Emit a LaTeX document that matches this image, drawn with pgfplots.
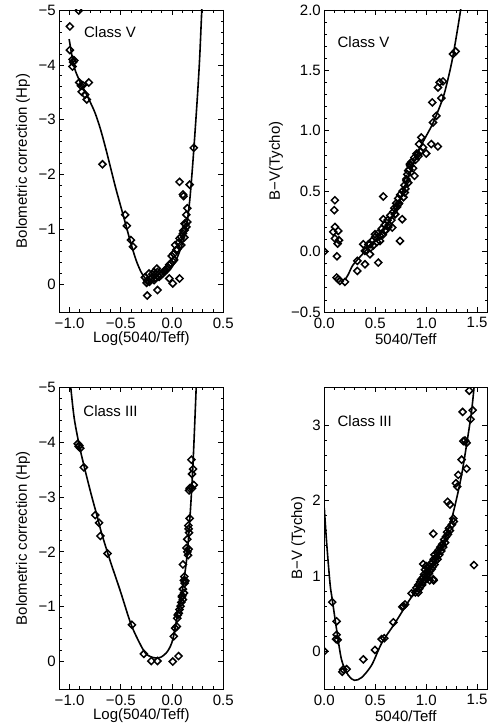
\documentclass[border=0pt]{standalone}
\usepackage{fontspec}
\setmainfont{Liberation Sans}
\usepackage{pgfplots}
\pgfplotsset{compat=1.18}

\pgfplotsset{
  idl/.style={
    scale only axis,
    anchor=south west,
    tick align=inside,
    xtick pos=both, ytick pos=both,
    major tick length=5pt, minor tick length=2.7pt,
    every tick/.style={black, line width=0.8pt},
    axis line style={line width=0.9pt},
    font=\fontsize{15}{17}\selectfont,
    tick label style={font=\fontsize{15}{17}\selectfont},
    xticklabel style={yshift=-2pt},
    minor x tick num=4,
    clip marker paths=true,
    xlabel style={at={(axis description cs:0.5,0)},anchor=center,yshift=-27pt},
  },
  pts/.style={only marks, mark=square, mark size=2.5pt,
    mark options={rotate=45, line width=1.5pt, black}},
  fit/.style={black, line width=1.6pt, smooth, tension=0.5, mark=none},
}

\begin{document}
\begin{tikzpicture}
\path[use as bounding box] (0,0) rectangle (489pt,728pt);

% ---------------- Top left ----------------
\begin{axis}[idl, at={(59.3pt,416pt)}, width=164pt, height=302pt,
  xmin=-1.1, xmax=0.5, ymin=-5, ymax=0.5, y dir=reverse,
  xtick={-1,-0.5,0,0.5}, xticklabels={−1.0,−0.5,0.0,0.5},
  ytick={-5,-4,-3,-2,-1,0}, yticklabels={−5,−4,−3,−2,−1,0},
  minor y tick num=4,
  xlabel={Log(5040/Teff)}, ylabel={Bolometric correction (Hp)},
  ylabel style={at={(axis description cs:-0.221,0.5)},anchor=center},
]
\addplot[fit] coordinates {
(-1.004,-4.47) (-0.975,-4.15) (-0.95,-3.93) (-0.90,-3.70) (-0.85,-3.52)
(-0.80,-3.33) (-0.75,-3.12) (-0.70,-2.84) (-0.65,-2.50) (-0.60,-2.13)
(-0.55,-1.76) (-0.50,-1.42) (-0.45,-1.08) (-0.40,-0.74) (-0.35,-0.44)
(-0.30,-0.22) (-0.25,-0.09) (-0.20,-0.05) (-0.15,-0.08) (-0.10,-0.13)
(-0.05,-0.21) (0.0,-0.32) (0.05,-0.49) (0.10,-0.74) (0.125,-0.91)
(0.15,-1.17) (0.175,-1.58) (0.20,-2.15) (0.225,-2.80) (0.25,-3.50)
(0.27,-4.15) (0.29,-5.0) (0.30,-5.4)};
\addplot[pts] coordinates {
(-0.911,-4.99) (-0.997,-4.70) (-0.997,-4.27) (-0.971,-4.10) (-0.954,-4.08)
(-0.965,-4.05) (-0.971,-3.97) (-0.905,-3.68) (-0.871,-3.63) (-0.812,-3.68)
(-0.881,-3.51) (-0.848,-3.46) (-0.832,-3.37) (-0.888,-3.62)
(-0.679,-2.19) (-0.457,-1.27) (-0.441,-1.07) (-0.401,-0.81) (-0.381,-0.69)
(-0.242,0.20) (-0.142,0.10) (0.007,-0.02) (0.073,-0.11) (-0.027,-0.11)
(0.073,-1.87) (0.106,-1.64) (0.112,-1.61) (0.172,-1.82) (0.212,-2.49)
(-0.265,-0.13) (-0.242,-0.07) (-0.248,-0.03) (-0.219,-0.05) (-0.192,-0.19)
(-0.176,-0.23) (-0.159,-0.19) (-0.142,-0.23) (-0.126,-0.14) (-0.093,-0.20)
(-0.066,-0.26) (-0.043,-0.31) (-0.027,-0.36) (-0.01,-0.39) (0.007,-0.42)
(-0.003,-0.52) (0.017,-0.56) (0.04,-0.63) (0.03,-0.72) (0.063,-0.76)
(0.073,-0.84) (0.089,-0.87) (0.106,-0.93) (0.123,-0.99) (0.139,-1.05)
(0.123,-1.11) (0.149,-1.14) (0.139,-1.27) (0.149,-1.39) (0.089,-0.72)
(0.05,-0.64) (-0.225,-0.20) (-0.209,-0.09) (-0.176,-0.08) (-0.109,-0.17)
(-0.08,-0.24) (-0.149,-0.29) (-0.20,-0.12) (-0.16,-0.12) (-0.12,-0.20)
(-0.05,-0.28) (0.02,-0.45) (0.11,-0.98) (0.13,-1.10) (0.12,-0.86)};
\node[anchor=west] at (rel axis cs:0.13,0.928) {Class V};
\end{axis}

% ---------------- Top right ----------------
\begin{axis}[idl, at={(324.3pt,416pt)}, width=163pt, height=302pt,
  xmin=0, xmax=1.6, ymin=-0.5, ymax=2.0,
  xtick={0,0.5,1,1.5}, xticklabels={0.0,0.5,1.0,1.5},
  ytick={-0.5,0,0.5,1,1.5,2}, yticklabels={−0.5,0.0,0.5,1.0,1.5,2.0},
  minor y tick num=4,
  xlabel={5040/Teff}, ylabel={B−V(Tycho)},
  ylabel style={at={(axis description cs:-0.296,0.5)},anchor=center},
]
\addplot[fit] coordinates {
(0.202,-0.235) (0.235,-0.19) (0.282,-0.11) (0.376,-0.02) (0.471,0.07)
(0.565,0.16) (0.659,0.28) (0.742,0.42) (0.815,0.60) (0.90,0.78) (0.97,0.91)
(1.065,1.06) (1.16,1.26) (1.206,1.40) (1.254,1.58) (1.30,1.80) (1.338,2.00) (1.357,2.12)};
\addplot[pts] coordinates {
(0.0,0.0) (0.104,0.425) (0.098,0.343) (0.104,0.204) (0.088,0.163) (0.137,0.171)
(0.104,0.108) (0.144,0.094) (0.131,0.066) (0.124,-0.039) (0.121,-0.215)
(0.137,-0.229) (0.153,-0.243) (0.203,-0.251) (0.324,-0.077) (0.324,-0.160)
(0.383,0.061) (0.399,0.006) (0.399,-0.105) (0.448,-0.022) (0.448,0.061)
(0.497,0.144) (0.530,-0.091) (0.547,0.088) (0.579,0.456) (0.579,0.268)
(0.596,0.171) (0.628,0.204) (0.667,0.199) (0.694,0.309) (0.727,0.392)
(0.743,0.088) (0.765,0.268) (0.790,0.489) (0.807,0.586) (0.823,0.669)
(0.840,0.724) (0.885,0.779) (0.919,0.807) (1.000,0.812) (0.885,0.627)
(0.952,0.945) (0.930,0.890) (1.050,0.890) (1.115,0.870) (0.969,0.862)
(1.060,1.235) (1.100,1.124) (1.067,1.069) (1.149,1.271) (1.116,1.359)
(1.132,1.401) (1.165,1.409) (1.263,1.635) (1.289,1.657)
(0.414,0.01) (0.433,0.06) (0.452,0.03) (0.471,0.09) (0.480,0.05) (0.499,0.12)
(0.518,0.08) (0.527,0.15) (0.546,0.13) (0.565,0.19) (0.574,0.14) (0.593,0.22)
(0.602,0.18) (0.621,0.26) (0.631,0.22) (0.649,0.30) (0.659,0.26) (0.678,0.33)
(0.687,0.36) (0.696,0.31) (0.706,0.40) (0.715,0.37) (0.725,0.44) (0.734,0.40)
(0.744,0.47) (0.768,0.50) (0.777,0.45) (0.787,0.55) (0.796,0.52) (0.806,0.60)
(0.815,0.64) (0.824,0.57) (0.834,0.68) (0.843,0.71) (0.853,0.74) (0.872,0.69)
(0.896,0.76) (0.905,0.81) (0.924,0.79) (0.943,0.83)};
\node[anchor=west] at (rel axis cs:0.06,0.895) {Class V};
\end{axis}

% ---------------- Bottom left ----------------
\begin{axis}[idl, at={(59.3pt,39pt)}, width=164pt, height=301.7pt,
  xmin=-1.1, xmax=0.5, ymin=-5, ymax=0.5, y dir=reverse,
  xtick={-1,-0.5,0,0.5}, xticklabels={−1.0,−0.5,0.0,0.5},
  ytick={-5,-4,-3,-2,-1,0}, yticklabels={−5,−4,−3,−2,−1,0},
  minor y tick num=4,
  xlabel={Log(5040/Teff)}, ylabel={Bolometric correction (Hp)},
  ylabel style={at={(axis description cs:-0.221,0.5)},anchor=center},
]
\addplot[fit] coordinates {
(-1.00,-5.3) (-0.987,-4.98) (-0.954,-4.43) (-0.905,-3.94) (-0.855,-3.54)
(-0.789,-3.05) (-0.722,-2.59) (-0.689,-2.35) (-0.606,-1.85) (-0.507,-1.30)
(-0.408,-0.72) (-0.341,-0.43) (-0.258,-0.15) (-0.176,-0.07) (-0.109,-0.08)
(-0.043,-0.19) (0.007,-0.40) (0.056,-0.885) (0.106,-1.37) (0.149,-1.98)
(0.182,-2.84) (0.205,-3.63) (0.222,-4.37) (0.239,-5.16)};
\addplot[pts] coordinates {
(-0.92,-3.97) (-0.905,-3.94) (-0.91,-3.92) (-0.895,-3.89) (-0.861,-3.54)
(-0.749,-2.67) (-0.712,-2.53) (-0.699,-2.29) (-0.629,-1.97) (-0.391,-0.67)
(-0.275,-0.14) (-0.202,-0.01) (-0.142,-0.01) (0.007,0.0) (0.063,-0.10)
(0.017,-0.46) (0.03,-0.61) (0.046,-0.64) (0.05,-0.79) (0.056,-0.85)
(0.073,-0.95) (0.083,-1.01) (0.09,-1.08) (0.106,-1.13) (0.096,-1.18)
(0.116,-1.25) (0.106,-1.32) (0.123,-1.43) (0.13,-1.47) (0.116,-1.48)
(0.106,-1.77) (0.156,-1.94) (0.149,-2.0) (0.162,-2.05) (0.149,-2.23)
(0.166,-2.35) (0.162,-2.42) (0.172,-2.61) (0.195,-3.16) (0.212,-3.22)
(0.172,-3.16) (0.195,-3.42) (0.205,-3.51) (0.189,-3.68) (0.166,-3.12)
(0.159,-2.48) (0.140,-2.07) (0.12,-1.55) (0.10,-1.20) (0.066,-0.88)};
\node[anchor=west] at (rel axis cs:0.126,0.922) {Class III};
\end{axis}

% ---------------- Bottom right ----------------
\begin{axis}[idl, at={(324.3pt,39pt)}, width=163pt, height=301.7pt,
  xmin=0, xmax=1.6, ymin=-0.5, ymax=3.5,
  xtick={0,0.5,1,1.5}, xticklabels={0.0,0.5,1.0,1.5},
  ytick={0,1,2,3}, yticklabels={0,1,2,3},
  minor y tick num=4,
  xlabel={5040/Teff}, ylabel={B−V (Tycho)},
  ylabel style={at={(axis description cs:-0.16,0.5)},anchor=center},
]
\addplot[fit] coordinates {
(0.0,1.90) (0.023,1.44) (0.056,0.90) (0.078,0.687) (0.121,0.286) (0.170,-0.116)
(0.235,-0.317) (0.295,-0.384) (0.366,-0.348) (0.465,-0.183) (0.563,0.107)
(0.694,0.375) (0.808,0.621) (0.906,0.821) (1.004,1.0) (1.102,1.223)
(1.184,1.491) (1.250,1.759) (1.299,2.027) (1.348,2.339) (1.397,2.741)
(1.446,3.188) (1.479,3.63)};
\addplot[pts] coordinates {
(0.0,0.0) (0.078,0.652) (0.121,0.397) (0.121,0.219) (0.131,0.152) (0.115,0.161)
(0.177,-0.272) (0.219,-0.237) (0.186,-0.241) (0.383,-0.107) (0.497,0.018)
(0.563,0.161) (0.589,0.174) (0.678,0.384) (0.765,0.589) (0.792,0.621)
(1.423,3.455) (1.358,3.174) (1.456,3.196) (1.436,3.076) (1.381,2.795)
(1.365,2.786) (1.397,2.763) (1.348,2.540) (1.397,2.420) (1.315,2.339)
(1.292,2.228) (1.305,2.183) (1.210,1.982) (1.233,1.946) (1.266,1.759)
(1.070,1.558) (1.469,1.143) (1.070,0.955) (0.971,1.156) (0.922,0.78)
(0.857,0.768) (0.776,0.598)
(0.894,0.78) (0.904,0.84) (0.913,0.80) (0.922,0.88) (0.932,0.83) (0.941,0.92)
(0.941,0.86) (0.951,0.95) (0.960,0.88) (0.969,0.98) (0.969,0.92) (0.979,1.02)
(0.988,0.95) (0.988,1.08) (0.998,1.00) (1.007,1.05) (1.007,0.96) (1.016,1.10)
(1.026,1.03) (1.035,1.12) (1.035,1.06) (1.045,1.16) (1.054,1.09) (1.064,1.18)
(1.064,1.12) (1.073,1.22) (1.082,1.15) (1.082,1.28) (1.092,1.20) (1.101,1.25)
(1.111,1.30) (1.111,1.22) (1.120,1.34) (1.129,1.28) (1.139,1.38) (1.148,1.33)
(1.158,1.42) (1.167,1.38) (1.176,1.48) (1.186,1.44) (1.195,1.52) (1.205,1.58)
(1.214,1.55) (1.224,1.63) (1.233,1.60) (1.252,1.68) (1.271,1.72) (0.998,1.13)
(1.035,0.94) (1.073,0.94)};
\node[anchor=west] at (rel axis cs:0.06,0.887) {Class III};
\end{axis}
\end{tikzpicture}
\end{document}
